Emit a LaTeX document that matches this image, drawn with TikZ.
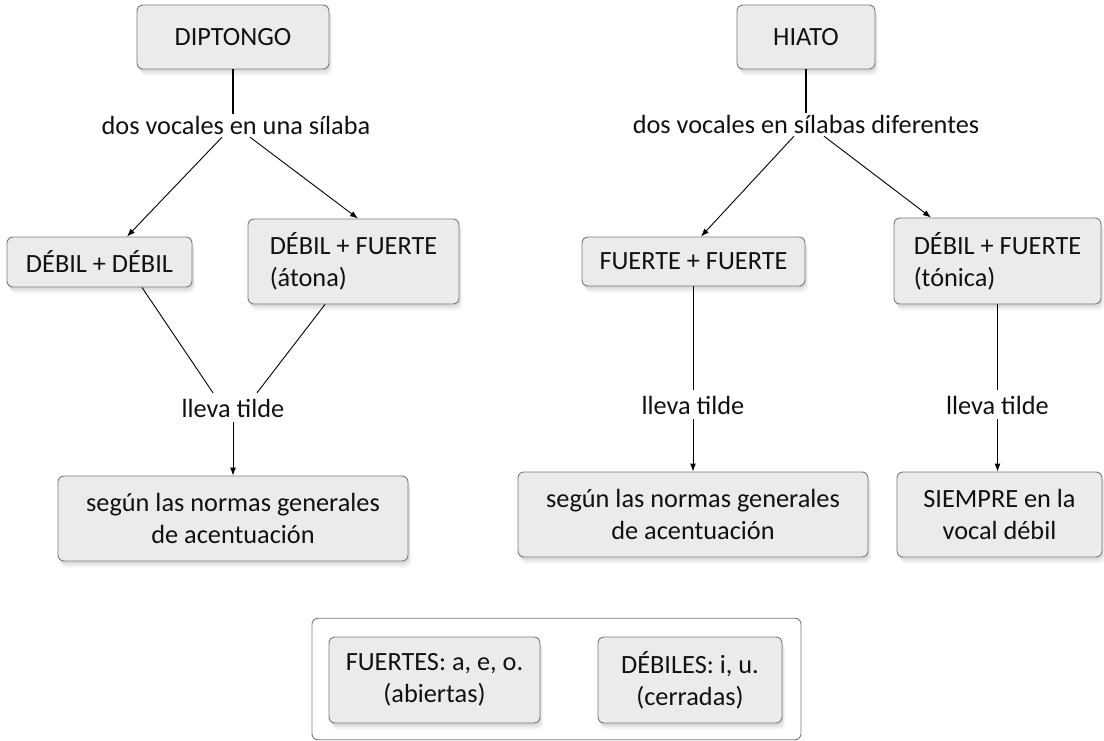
\documentclass[tikz,border=0pt]{standalone}
\usepackage{fontspec}
\setmainfont{Carlito}
\usetikzlibrary{arrows.meta,shadows}
\definecolor{boxfill}{HTML}{EBEBEB}
\definecolor{boxline}{HTML}{7A7A7A}
\definecolor{txt}{HTML}{111111}
\tikzset{
  softshadow/.style={
    general shadow={fill=black, opacity=0.06, shadow xshift=1pt, shadow yshift=-2.5pt},
    general shadow={fill=black, opacity=0.05, shadow xshift=2pt, shadow yshift=-4.5pt},
    general shadow={fill=black, opacity=0.04, shadow xshift=3pt, shadow yshift=-6.5pt}
  },
  basefont/.style={font=\fontsize{26.3}{32}\selectfont, text=txt},
  box/.style={basefont, draw=boxline, fill=boxfill, line width=0.9pt, rounded corners=6pt,
    align=center, inner sep=0pt, softshadow},
  lbox/.style={box, align=left},
  cont/.style={draw=boxline, fill=white, line width=0.9pt, rounded corners=6pt, inner sep=0pt},
  lbl/.style={basefont, inner xsep=2pt, inner ysep=2pt, text height=19pt, text depth=0pt},
  lblt/.style={basefont, inner xsep=2pt, inner ysep=5pt, text height=19pt, text depth=0pt},
  conn/.style={draw=black, line width=0.9pt},
  arr/.style={conn, -{Latex[length=8pt,width=6pt]}},
  thickline/.style={draw=black, line width=2.5pt}
}
\begin{document}
\begin{tikzpicture}[x=1pt,y=-1pt]
\useasboundingbox (0,0) rectangle (1104,741);
% top nodes
\node[box, minimum width=192pt, minimum height=64pt] (dip) at (233,37) {DIPTONGO};
\node[box, minimum width=138pt, minimum height=64pt] (hia) at (806,37) {HIATO};
\node[lbl, anchor=base] (t1) at (236,135) {dos vocales en una sílaba};
\node[lbl, anchor=base] (t2) at (806,134) {dos vocales en sílabas diferentes};
% second row
\node[box, minimum width=185pt, minimum height=50pt] (dd) at (99.5,262) {DÉBIL + DÉBIL};
\node[lbox, minimum width=211pt, minimum height=85pt] (dfa) at (353.5,261.5) {DÉBIL + FUERTE\\(átona)};
\node[box, minimum width=223pt, minimum height=49pt] (ff) at (693.5,261.5) {FUERTE + FUERTE};
\node[lbox, minimum width=207pt, minimum height=86pt] (dft) at (997.5,261) {DÉBIL + FUERTE\\(tónica)};
% lleva tilde
\node[lblt, anchor=base] (ll1) at (233,417) {lleva tilde};
\node[lblt, anchor=base] (ll2) at (693,414) {lleva tilde};
\node[lblt, anchor=base] (ll3) at (997.5,414) {lleva tilde};
% result boxes
\node[box, minimum width=350pt, minimum height=85pt] (sn1) at (233,518.5) {según las normas generales\\de acentuación};
\node[box, minimum width=350pt, minimum height=85pt] (sn2) at (693,514.5) {según las normas generales\\de acentuación};
\node[box, minimum width=205pt, minimum height=85pt] (siem) at (999.5,514.5) {SIEMPRE en la\\vocal débil};
% legend
\node[cont, minimum width=489pt, minimum height=121.5pt] (leg) at (556.5,679) {};
\node[box, minimum width=211pt, minimum height=86pt] (fu) at (434.5,680) {FUERTES: a, e, o.\\(abiertas)};
\node[box, minimum width=184pt, minimum height=86pt] (de) at (690,680) {DÉBILES: i, u.\\(cerradas)};
% connectors left
\draw[thickline] (dip.south) -- (dip.south |- t1.north);
\draw[arr] ([xshift=-14pt]t1.south) -- ([xshift=27.5pt]dd.north);
\draw[arr] ([xshift=14pt]t1.south) -- ([xshift=4.5pt]dfa.north);
\draw[conn] ([xshift=42.5pt]dd.south) -- ([xshift=-20pt]ll1.north);
\draw[conn] ([xshift=-28.5pt]dfa.south) -- ([xshift=24pt]ll1.north);
\draw[arr] (ll1.south) -- (ll1.south |- sn1.north);
% connectors right
\draw[thickline] (hia.south) -- (hia.south |- t2.north);
\draw[arr] ([xshift=-12pt]t2.south) -- ([xshift=7.5pt]ff.north);
\draw[arr] ([xshift=18pt]t2.south) -- ([xshift=-66.5pt]dft.north);
\draw[conn] (ff.south) -- (ff.south |- ll2.north);
\draw[arr] (ll2.south) -- (ll2.south |- sn2.north);
\draw[conn] (dft.south) -- (dft.south |- ll3.north);
\draw[arr] (ll3.south) -- (ll3.south |- siem.north);
\end{tikzpicture}
\end{document}
